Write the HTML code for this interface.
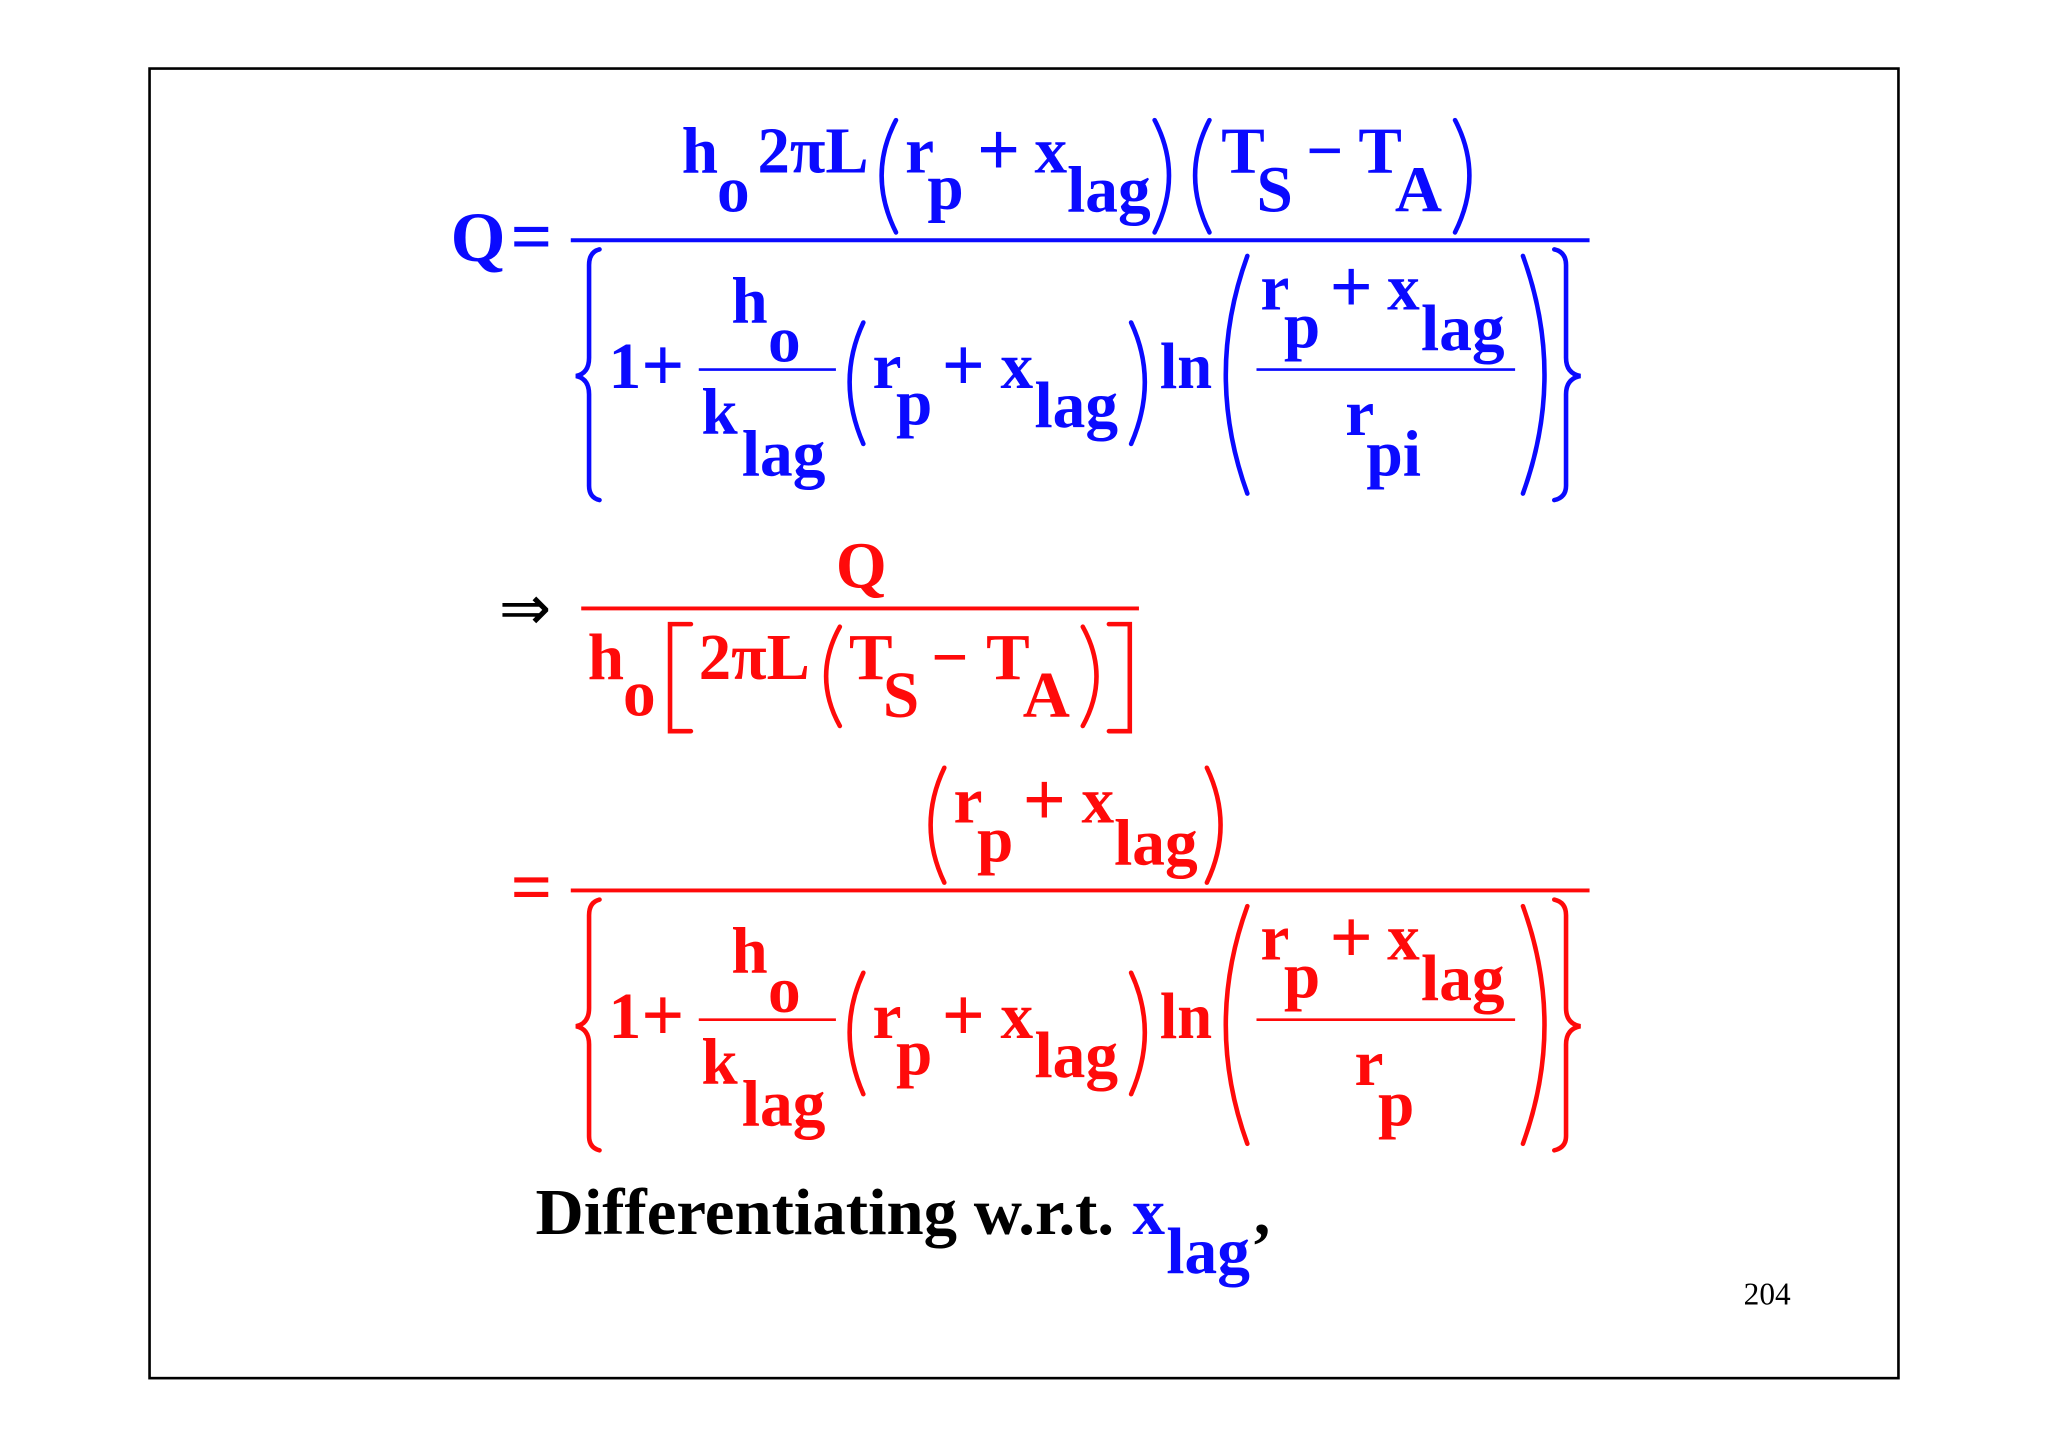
<!DOCTYPE html>
<html><head><meta charset="utf-8"><style>
html,body{margin:0;padding:0;background:#fff}
svg{display:block}
text{font-family:"Liberation Serif",serif;font-weight:bold;font-size:50px}
.b{fill:#0a0aff}.r{fill:#ff0a0a}
.bs{stroke:#0a0aff;fill:none;stroke-width:3.5;stroke-linecap:round}
.rs{stroke:#ff0a0a;fill:none;stroke-width:3.5;stroke-linecap:round}
</style></head><body>
<svg width="2048" height="1448" viewBox="0 0 1568 1109" preserveAspectRatio="none" xmlns="http://www.w3.org/2000/svg">
<rect x="114.5" y="52.5" width="1339" height="1003" fill="none" stroke="#000" stroke-width="2"/>

<!-- BLUE -->
<g class="b">
<text x="345" y="200" style="font-size:54px">Q</text>
<text x="391" y="200" style="font-size:56px">=</text>
<text x="522" y="132">h</text><text x="549" y="162">o</text>
<text x="580" y="132" textLength="85" lengthAdjust="spacingAndGlyphs">2πL</text>
<text x="693" y="132">r</text><text x="710" y="160">p</text>
<text x="748" y="134" style="font-size:58px">+</text><text x="792" y="132">x</text>
<text x="817" y="162" textLength="64" lengthAdjust="spacingAndGlyphs">lag</text>
<text x="935" y="132">T</text><text x="962" y="162">S</text>
<text x="1000" y="132">−</text><text x="1040" y="132">T</text><text x="1068" y="162">A</text>
</g>
<g class="bs">
<path d="M686 92 Q664 134 686 178"/><path d="M884 92 Q906 134 884 178"/>
<path d="M926 92 Q904 134 926 178"/><path d="M1114 92 Q1136 134 1114 178"/>
</g>
<line x1="437" y1="184" x2="1217" y2="184" stroke="#0a0aff" stroke-width="3"/>

<g class="b">
<text x="466" y="297">1</text><text x="491" y="299" style="font-size:58px">+</text>
<text x="560" y="247">h</text><text x="588" y="277">o</text>
<text x="537" y="332">k</text>
<text x="568" y="364" textLength="64" lengthAdjust="spacingAndGlyphs">lag</text>
<text x="668" y="297">r</text><text x="686" y="325">p</text>
<text x="721" y="299" style="font-size:58px">+</text><text x="766" y="297">x</text>
<text x="792" y="327" textLength="64" lengthAdjust="spacingAndGlyphs">lag</text>
<text x="888" y="297" textLength="40" lengthAdjust="spacingAndGlyphs">ln</text>
<text x="965" y="237">r</text><text x="983" y="266">p</text>
<text x="1018" y="239" style="font-size:58px">+</text><text x="1062" y="237">x</text>
<text x="1088" y="268" textLength="64" lengthAdjust="spacingAndGlyphs">lag</text>
<text x="1030" y="333">r</text><text x="1046" y="364" textLength="42" lengthAdjust="spacingAndGlyphs">pi</text>
</g>
<g class="bs">
<path d="M459 191 Q451 193 451 203 L451 274 Q451 286 441 288 Q451 290 451 302 L451 372 Q451 381 459 383"/>
<path d="M1190 191 Q1199 193 1199 203 L1199 274 Q1199 286 1210 288 Q1199 290 1199 302 L1199 372 Q1199 381 1190 383"/>
<path d="M661 247 Q640 292 661 340"/><path d="M866 247 Q887 292 866 340"/>
<path d="M955 196 Q922 287 955 378"/><path d="M1166 196 Q1199 287 1166 378"/>
</g>
<g stroke="#0a0aff" stroke-width="2"><line x1="535" y1="283" x2="640" y2="283"/><line x1="962" y1="283" x2="1160" y2="283"/></g>

<!-- RED -->
<text x="382" y="482" style="font-size:48px;font-weight:normal;fill:#000">⇒</text>
<g class="r">
<text x="640" y="450">Q</text>
<text x="450" y="520">h</text><text x="477" y="548">o</text>
<text x="535" y="520" textLength="85" lengthAdjust="spacingAndGlyphs">2πL</text>
<text x="650" y="520">T</text><text x="676" y="549">S</text>
<text x="713" y="520">−</text><text x="755" y="520">T</text><text x="783" y="549">A</text>
<text x="730" y="630">r</text><text x="748" y="660">p</text>
<text x="783" y="632" style="font-size:58px">+</text><text x="828" y="630">x</text>
<text x="853" y="662" textLength="64" lengthAdjust="spacingAndGlyphs">lag</text>
<text x="391" y="698" style="font-size:56px">=</text>
</g>
<line x1="445" y1="466" x2="872" y2="466" stroke="#ff0a0a" stroke-width="3"/>
<g class="rs">
<path d="M529 478 L513 478 L513 560 L529 560"/><path d="M849 478 L865 478 L865 560 L849 560"/>
<path d="M643 480 Q622 518 643 556"/><path d="M829 480 Q850 518 829 556"/>
<path d="M723 588 Q702 632 723 676"/><path d="M924 588 Q945 632 924 676"/>
</g>
<line x1="437" y1="682" x2="1217" y2="682" stroke="#ff0a0a" stroke-width="3"/>

<g class="r" transform="translate(0,498)">
<text x="466" y="297">1</text><text x="491" y="299" style="font-size:58px">+</text>
<text x="560" y="247">h</text><text x="588" y="277">o</text>
<text x="537" y="332">k</text>
<text x="568" y="364" textLength="64" lengthAdjust="spacingAndGlyphs">lag</text>
<text x="668" y="297">r</text><text x="686" y="325">p</text>
<text x="721" y="299" style="font-size:58px">+</text><text x="766" y="297">x</text>
<text x="792" y="327" textLength="64" lengthAdjust="spacingAndGlyphs">lag</text>
<text x="888" y="297" textLength="40" lengthAdjust="spacingAndGlyphs">ln</text>
<text x="965" y="237">r</text><text x="983" y="266">p</text>
<text x="1018" y="239" style="font-size:58px">+</text><text x="1062" y="237">x</text>
<text x="1088" y="268" textLength="64" lengthAdjust="spacingAndGlyphs">lag</text>
<text x="1037" y="333">r</text><text x="1055" y="364">p</text>
</g>
<g class="rs" transform="translate(0,498)">
<path d="M459 191 Q451 193 451 203 L451 274 Q451 286 441 288 Q451 290 451 302 L451 372 Q451 381 459 383"/>
<path d="M1190 191 Q1199 193 1199 203 L1199 274 Q1199 286 1210 288 Q1199 290 1199 302 L1199 372 Q1199 381 1190 383"/>
<path d="M661 247 Q640 292 661 340"/><path d="M866 247 Q887 292 866 340"/>
<path d="M955 196 Q922 287 955 378"/><path d="M1166 196 Q1199 287 1166 378"/>
</g>
<g stroke="#ff0a0a" stroke-width="2"><line x1="535" y1="781" x2="640" y2="781"/><line x1="962" y1="781" x2="1160" y2="781"/></g>

<!-- Bottom -->
<text x="410" y="945" textLength="443" lengthAdjust="spacingAndGlyphs" fill="#000">Differentiating w.r.t.</text>
<text x="867" y="945" class="b">x</text>
<text x="893" y="975" class="b" textLength="64" lengthAdjust="spacingAndGlyphs">lag</text>
<text x="960" y="945" fill="#000">,</text>
<text x="1335" y="999" style="font-size:24px;font-weight:normal;fill:#000">204</text>
</svg>
</body></html>
